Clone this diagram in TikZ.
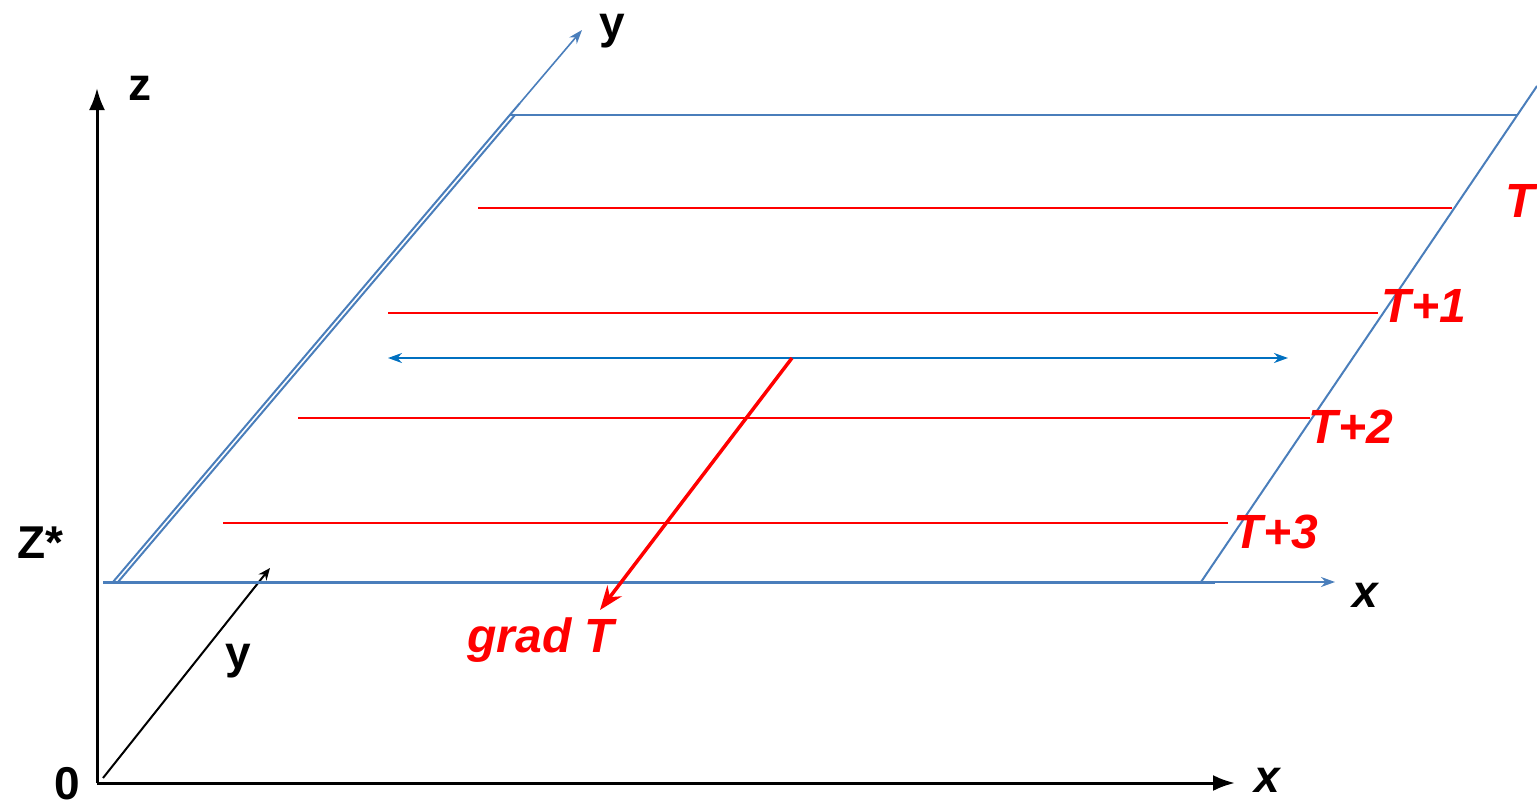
\documentclass[tikz,border=0pt]{standalone}
\usepackage{fontspec}
\setmainfont{Liberation Sans}
\usetikzlibrary{arrows.meta}
\definecolor{planeblue}{HTML}{4A7EBB}
\definecolor{arrblue}{HTML}{0070C0}
\tikzset{
  blackaxis/.style={black, line width=3pt, -{Latex[length=22pt,width=16pt]}},
  thinblack/.style={black, line width=2pt, -{Stealth[length=12pt,width=10pt]}},
  planeline/.style={planeblue, line width=2pt},
  bluearrow/.style={planeblue, line width=1.6pt, -{Stealth[length=14pt,width=10pt]}},
  isoline/.style={red, line width=2pt},
  lbl/.style={font=\fontsize{46}{50}\selectfont\bfseries, inner sep=0pt, anchor=base},
  rlbl/.style={lbl, red, font=\fontsize{48}{52}\selectfont\bfseries\itshape},
}
\begin{document}
\begin{tikzpicture}[x=1pt,y=-1pt]
\useasboundingbox (0,0) rectangle (1537,809);
% black axes
\coordinate (O) at (97,783);
\coordinate (zt) at (97,88);
\coordinate (xt) at (1235,783);
\coordinate (ys) at (103,778);
\coordinate (yt) at (270,568);
\draw[blackaxis] (O) -- (zt);
\draw[blackaxis] (O) -- (xt);
\draw[thinblack] (ys) -- (yt);
\node[lbl] (lz) at (140,100) {z};
\node[lbl] (l0) at (67,799) {0};
\node[lbl] (lzs) at (40,558) {Z*};
\node[lbl] (lyb) at (238,668) {y};
\node[lbl, font=\fontsize{46}{50}\selectfont\bfseries\itshape] (lxb) at (1267,792) {x};
% plane
\coordinate (P1) at (103,582);
\coordinate (P2) at (1215,582);
\coordinate (PX) at (1335,582);
\coordinate (BR) at (1201,582);
\coordinate (TR) at (1517,115);
\coordinate (RE) at (1537,86);
\coordinate (BL) at (113,582);
\coordinate (TL) at (510,115);
\coordinate (TL2) at (520,103);
\coordinate (YT) at (582,30);
\draw[planeline, line width=3pt] (P1) -- (P2);
\draw[bluearrow] (P2) -- (PX);
\draw[planeline] (BL) -- (TL2);
\draw[planeline] ([xshift=5pt]BL) -- ([xshift=5pt]TL);
\draw[bluearrow] (TL2) -- (YT);
\draw[planeline] (TL) -- (TR);
\draw[planeline] (BR) -- (RE);
\node[lbl] (lyt) at (612,38) {y};
\node[lbl, font=\fontsize{46}{50}\selectfont\bfseries\itshape] (lxm) at (1365,607) {x};
% isolines
\coordinate (a1) at (478,208); \coordinate (a2) at (1452,208);
\coordinate (b1) at (388,313); \coordinate (b2) at (1378,313);
\coordinate (c1) at (298,418); \coordinate (c2) at (1310,418);
\coordinate (d1) at (223,523); \coordinate (d2) at (1228,523);
\draw[isoline] (a1) -- (a2);
\draw[isoline] (b1) -- (b2);
\draw[isoline] (c1) -- (c2);
\draw[isoline] (d1) -- (d2);
\node[rlbl] (lT) at (1520,217) {T};
\node[rlbl] (lT1) at (1424,322) {T+1};
\node[rlbl] (lT2) at (1351,443) {T+2};
\node[rlbl] (lT3) at (1276,548) {T+3};
% double arrow
\coordinate (m1) at (388,358);
\coordinate (m2) at (1288,358);
\coordinate (gs) at (792,358);
\coordinate (ge) at (600,610);
\draw[arrblue, line width=2pt, {Stealth[length=14pt,width=10pt]}-{Stealth[length=14pt,width=10pt]}] (m1) -- (m2);
\draw[red, line width=3.5pt, -{Stealth[length=24pt,width=18pt]}] (gs) -- (ge);
\node[rlbl] (lg) at (541,652) {grad T};
\end{tikzpicture}
\end{document}
